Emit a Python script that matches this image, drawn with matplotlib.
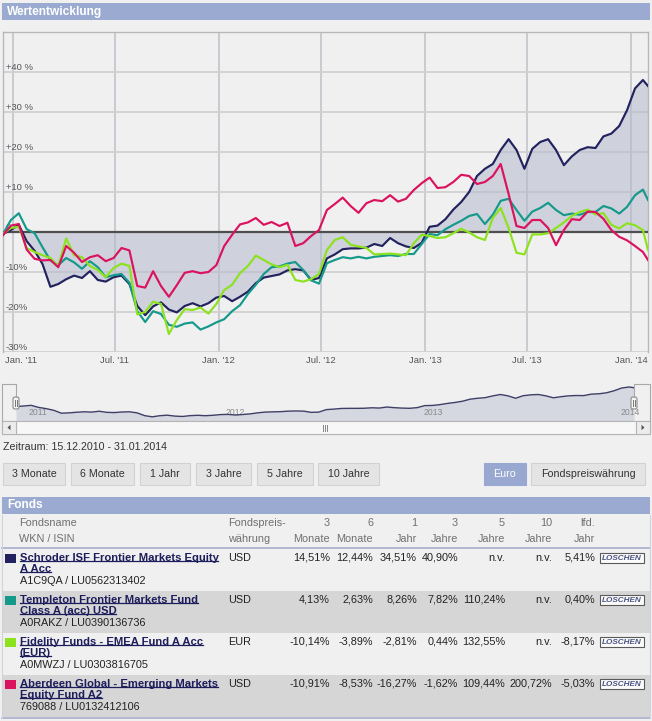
import matplotlib
matplotlib.use("Agg")
import matplotlib.pyplot as plt
import matplotlib.transforms as mtransforms
from matplotlib.patches import Rectangle, FancyBboxPatch, Polygon
import pandas as pd

plt.rcParams['font.family'] = ['Liberation Sans', 'DejaVu Sans']

W, H = 652, 721

dates = list(pd.date_range('2010-12-15', periods=82, freq='14D')) + [pd.Timestamp('2014-01-31')]

schroder = [-0.5, 0.5, 1.8, -2.3, -4.7, -8.0, -13.7, -13.0, -11.8, -10.9,
            -11.5, -9.8, -12.0, -12.4, -11.3, -10.9, -13.0, -18.5, -20.8, -18.6,
            -17.6, -19.4, -20.1, -18.5, -17.8, -18.6, -17.8, -16.4, -16.0, -17.3,
            -16.2, -14.9, -12.8, -11.4, -11.0, -10.6, -9.6, -9.3, -9.6, -12.0,
            -11.5, -6.6, -5.6, -4.3, -4.1, -4.1, -3.9, -3.0, -3.5, -1.5,
            -2.8, -3.6, -4.0, -2.7, 1.3, 1.6, 3.2, 5.6, 7.5, 10.0,
            14.0, 15.8, 17.0, 20.5, 23.2, 20.5, 15.8, 20.8, 22.5, 23.2,
            20.5, 16.7, 18.9, 20.5, 21.2, 21.0, 23.9, 24.6, 26.5, 30.5,
            35.9, 38.0, 36.5]

templeton = [-0.5, 3.0, 4.7, 0.7, -0.3, -3.8, -7.1, -8.3, -6.5, -7.6,
             -9.2, -7.3, -8.8, -11.3, -10.8, -10.5, -12.7, -19.8, -22.5, -19.8,
             -20.5, -23.2, -23.7, -22.9, -22.6, -24.4, -23.6, -22.6, -21.8, -19.8,
             -18.3, -15.5, -13.2, -10.5, -8.8, -8.6, -7.9, -7.5, -9.5, -12.1,
             -12.9, -7.8, -7.0, -6.3, -6.6, -6.2, -6.6, -6.2, -6.0, -5.8,
             -6.0, -5.5, -5.5, -3.0, -0.5, -0.8, 0.7, 1.8, 2.8, 4.0,
             4.5, 2.0, 4.3, 7.8, 8.3, 5.5, 2.8, 5.1, 6.0, 7.3,
             5.5, 4.2, 4.6, 4.3, 5.0, 5.0, 6.5, 5.9, 4.6, 6.3,
             9.2, 10.6, 8.0]

fidelity = [-0.5, 1.0, 1.3, -4.0, -5.0, -5.8, -6.5, -8.5, -1.6, -5.8,
            -6.3, -8.5, -9.5, -11.3, -9.0, -7.9, -8.5, -20.6, -20.0, -17.4,
            -18.0, -25.5, -22.0, -19.3, -19.5, -18.9, -20.4, -18.0, -14.5, -13.2,
            -10.3, -8.5, -5.9, -7.0, -8.1, -8.8, -8.2, -12.0, -12.4, -11.8,
            -10.5, -4.5, -2.0, -1.3, -3.2, -3.6, -4.0, -5.6, -5.5, -5.4,
            -5.6, -5.8, -2.8, -0.7, -1.0, -1.5, -1.3, -0.3, 0.8, -0.1,
            -1.3, -2.0, 3.5, 6.0, 1.0, -5.2, -5.6, -0.6, -0.6, -0.3,
            1.0, 2.4, 4.0, 5.0, 5.6, 4.4, 4.7, 1.8, 0.9, 2.2,
            1.7, 0.5, -4.5]

aberdeen = [-0.8, 1.6, 2.0, -4.4, -6.7, -7.1, -7.0, -8.8, -3.5, -5.2,
            -7.5, -6.3, -5.8, -7.3, -6.5, -4.0, -4.6, -13.5, -13.9, -9.8,
            -13.5, -16.2, -13.3, -10.2, -9.8, -10.3, -10.0, -8.3, -3.5, -0.7,
            1.9, 2.4, 3.5, 1.8, 2.5, 1.5, 2.3, -3.5, -2.8, -1.0,
            0.5, 5.5, 7.0, 8.6, 6.5, 4.8, 7.2, 8.0, 7.7, 9.2,
            7.6, 8.3, 10.5, 12.2, 13.6, 11.0, 11.2, 12.5, 14.3, 14.0,
            12.0, 12.5, 14.0, 17.0, 9.5, 1.5, 1.0, 3.0, 3.0, 1.0,
            -3.3, 0.5, 3.2, 3.0, 5.1, 5.0, 3.3, 0.5, -1.2, -2.1,
            -3.5, -5.0, -7.0]

fund_colors = ['#22225e', '#14998b', '#8ce21c', '#db125e']

x_ticks = pd.to_datetime(['2011-01-01', '2011-07-01', '2012-01-01', '2012-07-01',
                          '2013-01-01', '2013-07-01', '2014-01-01'])
x_labels = ["Jan. '11", "Jul. '11", "Jan. '12", "Jul. '12", "Jan. '13", "Jul. '13", "Jan. '14"]
y_ticks = [-30, -20, -10, 0, 10, 20, 30, 40]
y_labels = ['-30%', '-20%', '-10%', '0', '+10 %', '+20 %', '+30 %', '+40 %']
nav_years = pd.to_datetime(['2011-01-01', '2012-01-01', '2013-01-01', '2014-01-01'])
nav_labels = ['2011', '2012', '2013', '2014']

# Tabelle
fund_names = [("Schroder ISF Frontier Markets Equity", "A Acc"),
              ("Templeton Frontier Markets Fund", "Class A (acc) USD"),
              ("Fidelity Funds - EMEA Fund A Acc", "(EUR)"),
              ("Aberdeen Global - Emerging Markets", "Equity Fund A2")]
fund_ids = ["A1C9QA / LU0562313402", "A0RAKZ / LU0390136736",
            "A0MWZJ / LU0303816705", "769088 / LU0132412106"]
fund_ccy = ["USD", "USD", "EUR", "USD"]
col_heads = [("3", "Monate"), ("6", "Monate"), ("1", "Jahr"), ("3", "Jahre"),
             ("5", "Jahre"), ("10", "Jahre"), ("lfd.", "Jahr")]
perf = [[14.51, 12.44, 34.51, 40.90, None, None, 5.41],
        [4.13, 2.63, 8.26, 7.82, 110.24, None, 0.40],
        [-10.14, -3.89, -2.81, 0.44, 132.55, None, -8.17],
        [-10.91, -8.53, -16.27, -1.62, 109.44, 200.72, -5.03]]

period_buttons = ['3 Monate', '6 Monate', '1 Jahr', '3 Jahre', '5 Jahre', '10 Jahre']


def fmt(v):
    if v is None:
        return 'n.v.'
    return f"{v:.2f}".replace('.', ',') + '%'


def px(x0, y0, x1, y1):
    return [x0 / W, 1 - y1 / H, (x1 - x0) / W, (y1 - y0) / H]


BG = '#f0f0f0'
BAR = '#9aaad0'
fig = plt.figure(figsize=(W / 100, H / 100), dpi=100, facecolor=BG)

# ---------------- Hauptchart ----------------
ax = fig.add_axes(px(3, 32, 648, 352), zorder=2)
ax.set_facecolor('none')
ax.set_xlim(dates[0], dates[-1])
ax.set_ylim(-30, 50)
ax.set_axisbelow(True)
ax.grid(axis='x', color='#c5c8cd', lw=1.3)
ax.grid(axis='y', color='#d0d0d0', lw=1.3)
for s in ['left', 'top', 'right']:
    ax.spines[s].set_color('#b8b8b8')
    ax.spines[s].set_linewidth(1)
ax.spines['bottom'].set_visible(False)

ax.fill_between(dates, schroder, 0, color='#b4b8cc', alpha=0.55, lw=0, zorder=2)
ax.axhline(0, color='#4f4f4f', lw=1.6, zorder=3)
for vals, c in zip([schroder, templeton, fidelity, aberdeen], fund_colors):
    ax.plot(dates, vals, color=c, lw=1.55, solid_joinstyle='round', zorder=4)

ax.set_xticks(x_ticks)
ax.set_xticklabels(x_labels)
ax.set_yticks(y_ticks)
ax.set_yticklabels(y_labels)
ax.tick_params(axis='x', length=0, pad=3, labelsize=6.8, labelcolor='#555555')
ax.tick_params(axis='y', length=0, pad=-2, labelsize=6.8, labelcolor='#555555')
for lab in ax.get_yticklabels():
    lab.set_ha('left')
    lab.set_va('bottom')
first = ax.get_xticklabels()[0]
first.set_ha('left')
first.set_transform(first.get_transform() +
                    mtransforms.ScaledTranslation(-0.08, 0, fig.dpi_scale_trans))

# ---------------- Navigator ----------------
nav = fig.add_axes(px(16, 384, 634, 421), zorder=2)
nav.set_facecolor('none')
nav.set_xlim(dates[0], dates[-1])
rng = max(schroder) - min(schroder)
nav_lo = min(schroder) - 0.14 * rng
nav.set_ylim(nav_lo, max(schroder) + 0.1 * rng)
nav.fill_between(dates, schroder, nav_lo, color='#d5d7e1', lw=0, zorder=1)
nav.plot(dates, schroder, color='#3e3e66', lw=1, zorder=3)
nav.axis('off')
shift = mtransforms.ScaledTranslation(0.03, 0, fig.dpi_scale_trans)
for d, yr in zip(nav_years, nav_labels):
    nav.text(d, 0.22, yr, transform=nav.get_xaxis_transform() + shift, fontsize=6.2,
             color='#8a8a8a', ha='left', va='center', zorder=2)

# ---------------- UI-Ebene ----------------
ui = fig.add_axes([0, 0, 1, 1], zorder=5)
ui.set_xlim(0, W)
ui.set_ylim(H, 0)
ui.axis('off')
ui.patch.set_alpha(0)

ui.add_patch(Rectangle((2, 3), 648, 17, fc=BAR, ec='none'))
ui.text(7, 11.5, 'Wertentwicklung', color='white', fontweight='bold', fontsize=8.6, va='center')

# Navigator-Rahmen und Griffe
ui.plot([2, 2, 16, 16], [421, 384, 384, 397], color='#a9a9a9', lw=0.8)
ui.plot([634, 634, 650, 650], [397, 384, 384, 421], color='#a9a9a9', lw=0.8)
for hx in (13, 631):
    ui.add_patch(FancyBboxPatch((hx, 397), 6, 12, boxstyle='round,pad=0,rounding_size=2',
                                fc='#f4f4f4', ec='#8a8a8a', lw=0.8))
    ui.plot([hx + 2.3, hx + 2.3], [400, 406], color='#777777', lw=0.7)
    ui.plot([hx + 3.9, hx + 3.9], [400, 406], color='#777777', lw=0.7)

# Scrollbar
ui.add_patch(Rectangle((2, 421), 648, 12.5, fc='#eeeeee', ec='#b5b5b5', lw=0.8))
ui.add_patch(Rectangle((16, 421), 620, 12.5, fc='#f7f7f7', ec='#b5b5b5', lw=0.8))
ui.add_patch(Rectangle((2, 421), 14, 12.5, fc='#ececec', ec='#b5b5b5', lw=0.8))
ui.add_patch(Rectangle((636, 421), 14, 12.5, fc='#ececec', ec='#b5b5b5', lw=0.8))
ui.add_patch(Polygon([(10.5, 424.8), (10.5, 430.2), (7.5, 427.5)], fc='#555555', ec='none'))
ui.add_patch(Polygon([(641.5, 424.8), (641.5, 430.2), (644.5, 427.5)], fc='#555555', ec='none'))
for gx in (323, 325, 327):
    ui.plot([gx, gx], [424.5, 430.5], color='#888888', lw=0.7)

ui.text(3, 446.5, 'Zeitraum: 15.12.2010 - 31.01.2014', fontsize=7.7, color='#333333', va='center')

# Zeitraum-Buttons
button_x = [(3, 65), (71, 134), (140, 190), (196, 251), (257, 313), (318, 379)]
for lab, (x0, x1) in zip(period_buttons, button_x):
    ui.add_patch(Rectangle((x0, 463), x1 - x0, 22, fc='#e4e4e4', ec='#d2d2d2', lw=0.8))
    ui.text((x0 + x1) / 2, 474, lab, fontsize=7.7, color='#333333', ha='center', va='center')
ui.add_patch(Rectangle((484, 463), 42, 22, fc='#98a8d0', ec='#98a8d0', lw=0.8))
ui.text(505, 474, 'Euro', fontsize=7.7, color='white', ha='center', va='center')
ui.add_patch(Rectangle((531, 463), 114, 22, fc='#e4e4e4', ec='#d2d2d2', lw=0.8))
ui.text(588, 474, 'Fondspreiswährung', fontsize=7.7, color='#333333', ha='center', va='center')

# ---------------- Fonds-Tabelle ----------------
ui.add_patch(Rectangle((2, 497), 648, 17, fc=BAR, ec='none'))
ui.text(7, 505.5, 'Fonds', color='white', fontweight='bold', fontsize=8.6, va='center')

head_c = '#707070'
ui.text(19, 523, 'Fondsname', fontsize=7.8, color=head_c, va='center')
ui.text(19, 538.5, 'WKN / ISIN', fontsize=7.8, color=head_c, va='center')
ui.text(228, 523, 'Fondspreis-', fontsize=7.8, color=head_c, va='center')
ui.text(228, 538.5, 'währung', fontsize=7.8, color=head_c, va='center')
col_right = [330, 373, 417, 458, 505, 552, 595]
for (h1, h2), xr in zip(col_heads, col_right):
    ui.text(xr, 523, h1, fontsize=7.8, color=head_c, va='center', ha='right')
    ui.text(xr, 538.5, h2, fontsize=7.8, color=head_c, va='center', ha='right')

row_top = [549, 591, 633, 675]
for r, y0 in enumerate(row_top):
    if r % 2 == 1:
        ui.add_patch(Rectangle((2, y0), 648, 42, fc='#d6d6d6', ec='none'))
ui.plot([2, 650], [548, 548], color='#a7afcb', lw=1.2)
ui.plot([2, 650], [717.5, 717.5], color='#a7afcb', lw=1.2)
ui.plot([2, 2], [515, 717.5], color='#d0d3dd', lw=0.8)
ui.plot([650, 650], [515, 717.5], color='#d0d3dd', lw=0.8)

name_texts = []
for r, y0 in enumerate(row_top):
    yc = y0 + 9
    ui.add_patch(Rectangle((5, yc - 4.5), 11, 9, fc=fund_colors[r], ec='none'))
    for k, line in enumerate(fund_names[r]):
        t = ui.text(19.5, yc + 11 * k, line, fontsize=8.1, fontweight='bold',
                    color='#1d1d5c', va='center')
        name_texts.append(t)
    ui.text(19.5, yc + 23, fund_ids[r], fontsize=7.8, color='#222222', va='center')
    ui.text(228, yc, fund_ccy[r], fontsize=7.8, color='#222222', va='center')
    for v, xr in zip(perf[r], col_right):
        ui.text(xr, yc, fmt(v), fontsize=7.8, color='#222222', va='center', ha='right')
    ui.add_patch(Rectangle((600, yc - 4.8), 44, 10, fc='#fbfbfb', ec='#5a5a5a', lw=0.8))
    ui.text(622, yc + 0.3, 'LÖSCHEN', fontsize=5.9, fontstyle='italic', fontweight='bold',
            color='#4b5382', ha='center', va='center')

# Unterstreichung der Fondsnamen
fig.canvas.draw()
for t in name_texts:
    bb = t.get_window_extent()
    yu = H - bb.y0 - 1.6
    ui.plot([bb.x0, bb.x1], [yu, yu], color='#1d1d5c', lw=0.9)

fig.savefig('out.png', dpi=100, facecolor=BG)
